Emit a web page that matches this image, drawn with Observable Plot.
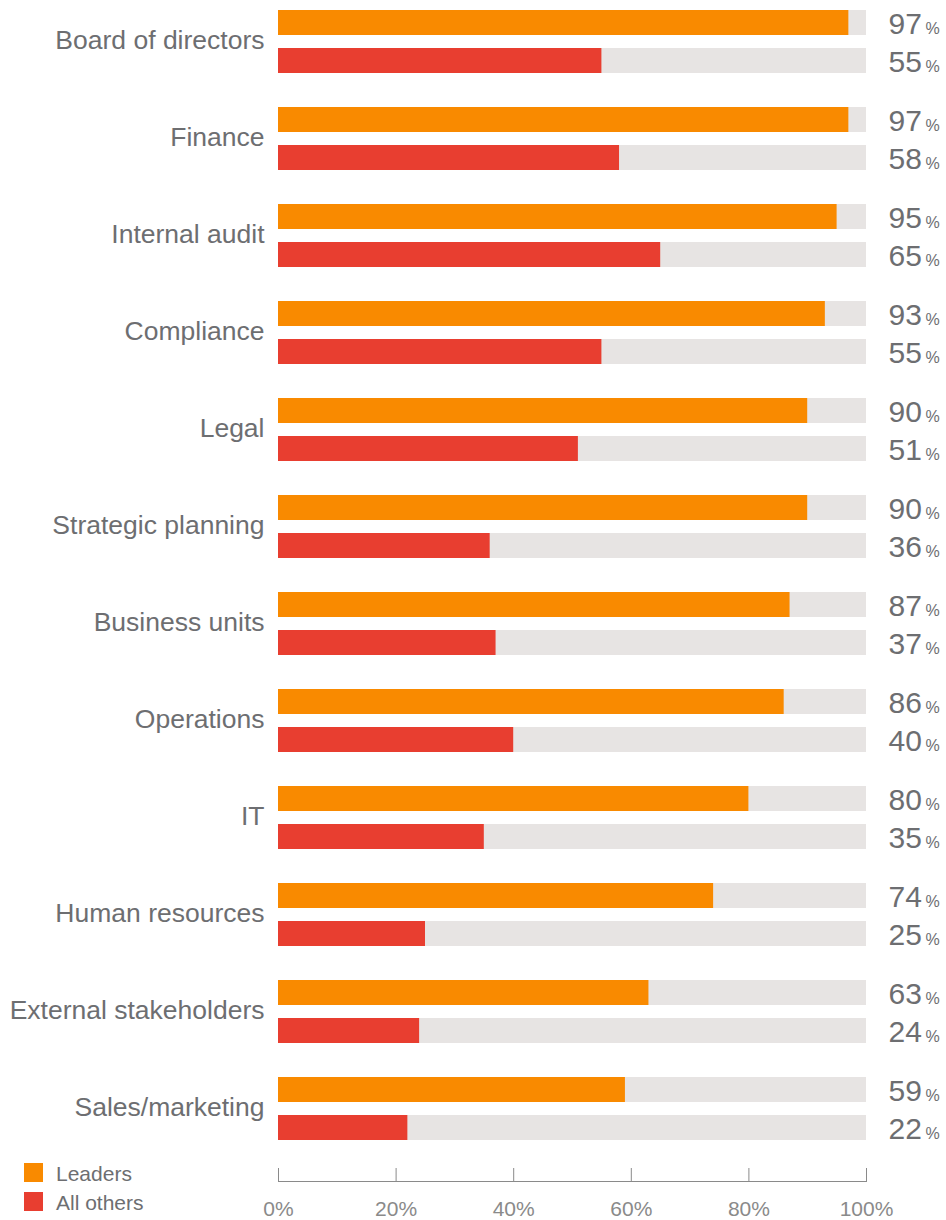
<!DOCTYPE html>
<html>
<head>
<meta charset="utf-8">
<script src="https://cdn.jsdelivr.net/npm/d3@7"></script>
<script src="https://cdn.jsdelivr.net/npm/@observablehq/plot@0.6"></script>
<style>
  html, body { margin: 0; padding: 0; background: #fff; }
  #wrap { position: relative; width: 946px; height: 1220px; }
  #legend { position: absolute; left: 24px; top: 1163px; font-family: "Liberation Sans", Arial, sans-serif; font-size: 21px; color: #6d6e71; }
  #legend .row { display: flex; align-items: flex-start; height: 29px; }
  #legend .sw { width: 19px; height: 19px; margin-right: 13px; flex: none; }
  #legend .lab { line-height: 19px; position: relative; top: 1px; }
</style>
</head>
<body>
<div id="wrap"></div>
<script>
const categories = ["Board of directors", "Finance", "Internal audit", "Compliance", "Legal", "Strategic planning", "Business units", "Operations", "IT", "Human resources", "External stakeholders", "Sales/marketing"];
const leaders = [97, 97, 95, 93, 90, 90, 87, 86, 80, 74, 63, 59];
const allOthers = [55, 58, 65, 55, 51, 36, 37, 40, 35, 25, 24, 22];
const seriesNames = ["Leaders", "All others"];
const seriesColors = ["#f98a00", "#e83e30"];
const xTicks = [0, 20, 40, 60, 80, 100];
const fullScale = 100;

const rows = categories.flatMap((c, i) => [
  {category: c, series: seriesNames[0], value: leaders[i]},
  {category: c, series: seriesNames[1], value: allOthers[i]}
]);
const rowsL = rows.filter(d => d.series === seriesNames[0]);
const rowsA = rows.filter(d => d.series === seriesNames[1]);

const textColor = "#6d6e71";
const axisColor = "#8a8a8a";
const bgColor = "#e7e4e3";
const gap = 38;

const chart = Plot.plot({
  width: 946,
  height: 1220,
  marginTop: 9,
  marginBottom: 78,
  marginLeft: 278,
  marginRight: 80,
  style: {fontFamily: "'Liberation Sans', Arial, sans-serif", background: "#fff"},
  x: {domain: [0, fullScale], axis: null},
  y: {domain: categories, paddingInner: 0.35, paddingOuter: 0, axis: null},
  color: {domain: seriesNames, range: seriesColors},
  marks: [
    Plot.barX(rowsL, {x: () => fullScale, y: "category", fill: bgColor, insetBottom: gap}),
    Plot.barX(rowsA, {x: () => fullScale, y: "category", fill: bgColor, insetTop: gap}),
    Plot.barX(rowsL, {x: "value", y: "category", fill: "series", insetBottom: gap}),
    Plot.barX(rowsA, {x: "value", y: "category", fill: "series", insetTop: gap}),
    Plot.text(rowsL, {x: () => fullScale, y: "category", text: d => String(d.value), dx: 22, dy: -17.5, textAnchor: "start", fontSize: 30, fill: textColor}),
    Plot.text(rowsA, {x: () => fullScale, y: "category", text: d => String(d.value), dx: 22, dy: 20.5, textAnchor: "start", fontSize: 30, fill: textColor}),
    Plot.text(rowsL, {x: () => fullScale, y: "category", text: () => "%", dx: 59, dy: -13, textAnchor: "start", fontSize: 16, fill: textColor}),
    Plot.text(rowsA, {x: () => fullScale, y: "category", text: () => "%", dx: 59, dy: 25, textAnchor: "start", fontSize: 16, fill: textColor}),
    Plot.axisY({tickSize: 0, tickPadding: 14, fontSize: 26.5, color: textColor, dy: -1, label: null}),
    Plot.frame({anchor: "bottom", dy: 39, stroke: axisColor}),
    Plot.axisX(xTicks, {tickSize: -13, tickFormat: () => "", dy: 39, color: axisColor, label: null}),
    Plot.axisX(xTicks, {tickSize: 0, tickPadding: 20, tickFormat: d => d + "%", fontSize: 21, dy: 39, color: axisColor, label: null})
  ]
});

const wrap = document.getElementById("wrap");
wrap.appendChild(chart);

const legend = document.createElement("div");
legend.id = "legend";
seriesNames.forEach((name, i) => {
  const row = document.createElement("div");
  row.className = "row";
  const sw = document.createElement("span");
  sw.className = "sw";
  sw.style.background = seriesColors[i];
  const lab = document.createElement("span");
  lab.className = "lab";
  lab.textContent = name;
  row.appendChild(sw);
  row.appendChild(lab);
  legend.appendChild(row);
});
wrap.appendChild(legend);
</script>
</body>
</html>
